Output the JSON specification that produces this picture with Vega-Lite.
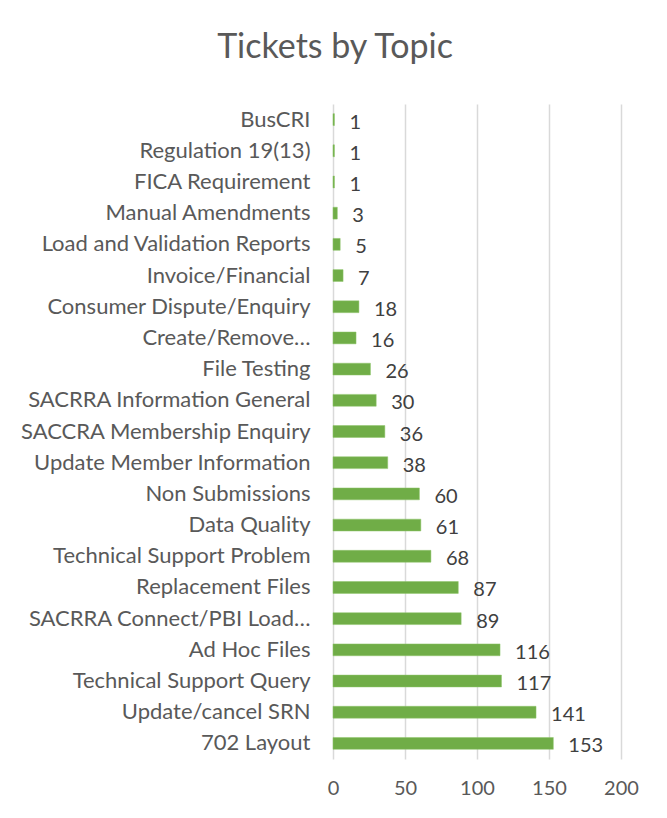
{
  "$schema": "https://vega.github.io/schema/vega-lite/v6.json",
  "autosize": {"type": "none"},
  "width": 288,
  "height": 655,
  "padding": {"left": 333, "top": 104, "right": 46, "bottom": 59},
  "background": "white",
  "title": {
    "text": "Tickets by Topic",
    "font": "Lato",
    "fontSize": 34,
    "fontWeight": "normal",
    "color": "#595959",
    "anchor": "middle",
    "dx": -142,
    "offset": 39
  },
  "data": {
    "values": [
      {"topic": "BusCRI", "count": 1},
      {"topic": "Regulation 19(13)", "count": 1},
      {"topic": "FICA Requirement", "count": 1},
      {"topic": "Manual Amendments", "count": 3},
      {"topic": "Load and Validation Reports", "count": 5},
      {"topic": "Invoice/Financial", "count": 7},
      {"topic": "Consumer Dispute/Enquiry", "count": 18},
      {"topic": "Create/Remove…", "count": 16},
      {"topic": "File Testing", "count": 26},
      {"topic": "SACRRA Information General", "count": 30},
      {"topic": "SACCRA Membership Enquiry", "count": 36},
      {"topic": "Update Member Information", "count": 38},
      {"topic": "Non Submissions", "count": 60},
      {"topic": "Data Quality", "count": 61},
      {"topic": "Technical Support Problem", "count": 68},
      {"topic": "Replacement Files", "count": 87},
      {"topic": "SACRRA Connect/PBI Load…", "count": 89},
      {"topic": "Ad Hoc Files", "count": 116},
      {"topic": "Technical Support Query", "count": 117},
      {"topic": "Update/cancel SRN", "count": 141},
      {"topic": "702 Layout", "count": 153}
    ]
  },
  "encoding": {
    "y": {
      "field": "topic",
      "type": "nominal",
      "sort": null,
      "scale": {"paddingInner": 0.62, "paddingOuter": 0.31},
      "axis": {
        "title": null,
        "domain": false,
        "ticks": false,
        "labelFont": "Lato",
        "labelFontSize": 22,
        "labelColor": "#595959",
        "labelPadding": 23,
        "labelLimit": 320
      }
    },
    "x": {
      "field": "count",
      "type": "quantitative",
      "scale": {"domain": [0, 200], "nice": false},
      "axis": {
        "title": null,
        "values": [0, 50, 100, 150, 200],
        "domain": false,
        "ticks": false,
        "grid": true,
        "gridColor": "#d9d9d9",
        "gridWidth": 1.5,
        "labelFlush": false,
        "labelFont": "Lato",
        "labelFontSize": 20,
        "labelColor": "#595959",
        "labelPadding": 19
      }
    }
  },
  "layer": [
    {
      "mark": {"type": "bar", "color": "#70AD47", "stroke": "#8fc46b", "strokeWidth": 0.5}
    },
    {
      "mark": {
        "type": "text",
        "align": "left",
        "baseline": "middle",
        "dx": 15,
        "dy": 3,
        "font": "Lato",
        "fontSize": 20,
        "color": "#404040"
      },
      "encoding": {"text": {"field": "count", "type": "quantitative"}}
    }
  ],
  "config": {"view": {"stroke": null}}
}
